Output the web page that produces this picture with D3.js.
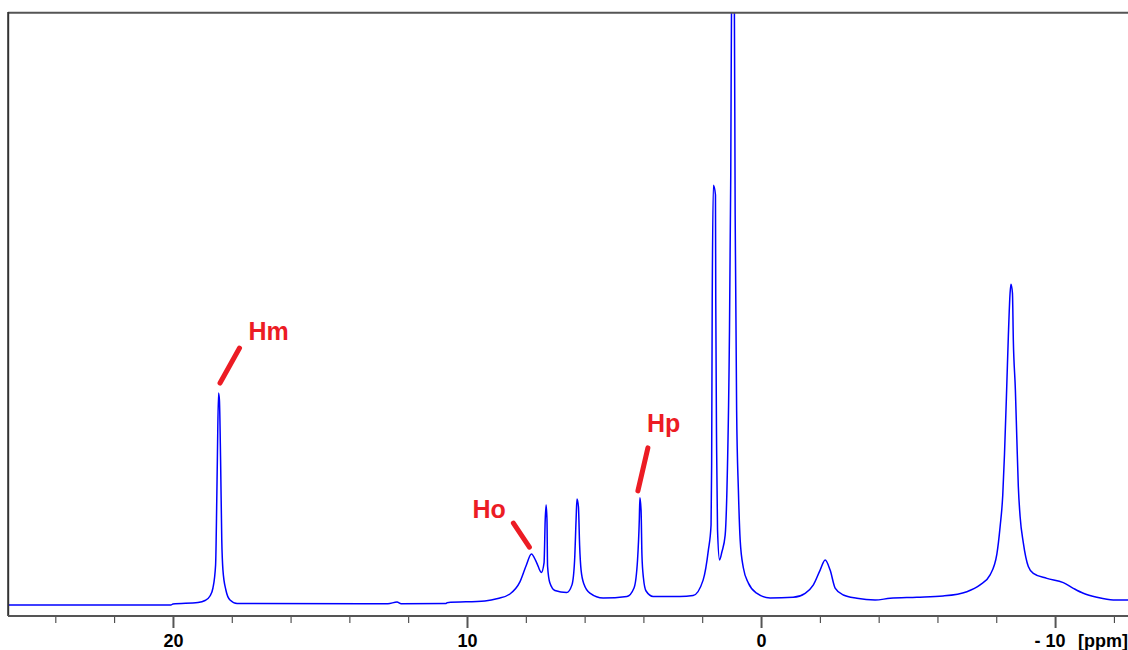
<!DOCTYPE html>
<html>
<head>
<meta charset="utf-8">
<script src="https://cdn.jsdelivr.net/npm/d3@7"></script>
<style>
    html, body { margin: 0; padding: 0; background: #fff; }
    svg { display: block; }
</style>
</head>
<body>
<div id="chart"></div>
<script>
// chemical shift (ppm) and intensity of the spectrum trace
var shifts = [
    25.61, 20.07, 20.00, 19.15, 18.91, 18.74, 18.64, 18.55, 18.51, 18.49, 18.45, 18.42,
    18.38, 18.34, 18.30, 18.20, 18.06, 17.82, 12.69, 12.38, 12.24, 10.71, 10.68, 9.39,
    8.95, 8.54, 8.20, 7.98, 7.81, 7.64, 7.47, 7.38, 7.34, 7.31, 7.28, 7.26,
    7.18, 7.01, 6.61, 6.43, 6.34, 6.29, 6.26, 6.21, 6.17, 6.12, 6.02, 5.82,
    5.37, 4.56, 4.32, 4.20, 4.14, 4.12, 4.08, 4.05, 4.00, 3.91, 3.67, 2.76,
    2.31, 1.97, 1.79, 1.70, 1.68, 1.66, 1.62, 1.55, 1.54, 1.51, 1.48, 1.41,
    1.33, 1.22, 1.16, 1.08, 1.03, 1.00, 0.95, 0.91, 0.88, 0.83, 0.77, 0.71,
    0.60, 0.43, 0.15, -0.31, -1.09, -1.50, -1.78, -2.01, -2.18, -2.35, -2.52, -2.80,
    -3.26, -3.88, -4.39, -5.30, -6.19, -7.00, -7.45, -7.79, -8.02, -8.13, -8.22, -8.28, -8.36,
    -8.41, -8.47, -8.50, -8.55, -8.58, -8.65, -8.70, -8.75, -8.81, -8.92, -9.09, -9.26,
    -9.72, -10.28, -10.62, -10.96, -11.42, -11.98, -12.48
];
var intensities = [
    0.0, 0.0, 0.17, 0.42, 0.76, 1.52, 2.87, 6.76, 17.7, 24.5, 35.8, 34.6,
    24.5, 11.0, 5.9, 2.53, 0.84, 0.25, 0.22, 0.5, 0.22, 0.25, 0.39, 0.68,
    1.1, 1.86, 3.9, 6.76, 8.6, 7.26, 5.49, 7.1, 14.4, 16.9, 14.4, 6.6,
    3.7, 2.45, 2.1, 3.4, 7.6, 14.4, 17.9, 16.6, 10.1, 5.9, 3.5, 2.0,
    1.18, 1.44, 2.87, 7.6, 14.4, 18.1, 16.0, 8.4, 4.6, 2.36, 1.44, 1.44,
    1.6, 4.2, 9.3, 13.5, 23.6, 51.5, 70.9, 69.3, 51.5, 26.2, 12.7, 7.6,
    9.0, 11.8, 19.4, 43.1, 72.6, 105, 115, 105, 65.9, 32.9, 19.4, 11.0,
    6.25, 3.7, 2.0, 1.18, 1.3, 1.98, 3.4, 5.9, 7.6, 5.9, 2.87, 1.69,
    1.13, 0.84, 1.13, 1.3, 1.52, 2.25, 3.4, 5.1, 8.6, 13.2, 18.5, 25.5, 37.5,
    45.3, 52.7, 54.2, 52.7, 44.8, 36.3, 28.0, 20.0, 15.0, 10.5, 6.5, 5.35,
    4.5, 3.77, 2.82, 1.98, 1.3, 0.84, 0.84
];

var majorTicks = [20, 10, 0, -10];
var minorTicks = [24, 22, 18, 16, 14, 12, 8, 6, 4, 2, -2, -4, -6, -8, -12];
var tickLabels = ["20", "10", "0", "- 10"];
var unitLabel = "[ppm]";

var peakNames = ["Hm", "Ho", "Hp"];
var peakShifts = [18.45, 7.81, 4.12];
var peakHeights = [35.8, 8.6, 18.1];

var width = 1128,
    height = 650,
    frameLeft = 8,
    frameTop = 13,
    axisY = 616,
    labelColor = "#ec1c24";

// where each marker stroke and label sits, relative to its peak top
var peakLayout = [
    { x1: 1.5, y1: -10, x2: 21, y2: -45, tx: 30, ty: -53 },
    { x1: -2, y1: -7, x2: -18, y2: -31, tx: -59, ty: -36 },
    { x1: -2, y1: -7, x2: 8, y2: -50, tx: 7, ty: -66 }
];

var svg = d3.select("#chart")
    .append("svg")
    .attr("width", width)
    .attr("height", height)
    .style("font-family", "'Liberation Sans', Arial, sans-serif");

svg.append("rect")
    .attr("width", width)
    .attr("height", height)
    .style("fill", "#fff");

var x = d3.scaleLinear()
    .domain([25.61, -12.48])
    .range([frameLeft, width]);

var y = d3.scaleLinear()
    .domain([0, 100])
    .range([605, frameTop]);

svg.append("clipPath")
    .attr("id", "plot-clip")
    .append("rect")
    .attr("x", frameLeft)
    .attr("y", frameTop)
    .attr("width", width - frameLeft)
    .attr("height", axisY - frameTop);

var points = shifts.map(function(s, i) {
    return [s, intensities[i]];
});

var line = d3.line()
    .curve(d3.curveMonotoneX)
    .x(function(d) { return x(d[0]); })
    .y(function(d) { return y(d[1]); });

svg.append("path")
    .datum(points)
    .attr("clip-path", "url(#plot-clip)")
    .attr("d", line)
    .style("fill", "none")
    .style("stroke", "#0000ff")
    .style("stroke-width", 1.5)
    .style("stroke-linejoin", "round");

// frame: top and left edges
svg.append("line")
    .attr("x1", frameLeft)
    .attr("x2", width)
    .attr("y1", 12.8)
    .attr("y2", 12.8)
    .style("stroke", "#555")
    .style("stroke-width", 2);

svg.append("line")
    .attr("x1", 8.2)
    .attr("x2", 8.2)
    .attr("y1", 12)
    .attr("y2", axisY)
    .style("stroke", "#333")
    .style("stroke-width", 2);

// minor ticks
var minorAxis = svg.append("g")
    .attr("transform", "translate(0," + axisY + ")")
    .call(d3.axisBottom(x)
        .tickValues(minorTicks)
        .tickSize(7)
        .tickSizeOuter(0)
        .tickFormat(""));
minorAxis.select(".domain").remove();
minorAxis.selectAll(".tick line")
    .style("stroke", "#333")
    .style("stroke-width", 1);

// major ticks with labels
var majorAxis = svg.append("g")
    .attr("transform", "translate(0," + axisY + ")")
    .call(d3.axisBottom(x)
        .tickValues(majorTicks)
        .tickSize(12)
        .tickSizeOuter(0)
        .tickPadding(6)
        .tickFormat(function(d, i) { return tickLabels[i]; }));
majorAxis.select(".domain").remove();
majorAxis.selectAll(".tick line")
    .style("stroke", "#555")
    .style("stroke-width", 2);
majorAxis.selectAll(".tick text")
    .style("fill", "#000")
    .style("font-size", "18px")
    .style("font-weight", "bold")
    .style("font-family", "'Liberation Sans', Arial, sans-serif")
    .filter(function(d) { return d < 0; })
    .attr("text-anchor", "end")
    .attr("x", 10);

svg.append("text")
    .attr("x", x(-10) + 23)
    .attr("y", axisY + 18)
    .attr("dy", "0.71em")
    .style("font-size", "18px")
    .style("font-weight", "bold")
    .text(unitLabel);

svg.append("line")
    .attr("x1", frameLeft)
    .attr("x2", width)
    .attr("y1", axisY)
    .attr("y2", axisY)
    .style("stroke", "#555")
    .style("stroke-width", 1.8);

// peak annotations
var marks = svg.selectAll("g.peak-label")
    .data(peakNames)
    .enter()
    .append("g")
    .attr("class", "peak-label")
    .attr("transform", function(d, i) {
        return "translate(" + x(peakShifts[i]) + "," + y(peakHeights[i]) + ")";
    });

marks.append("line")
    .attr("x1", function(d, i) { return peakLayout[i].x1; })
    .attr("y1", function(d, i) { return peakLayout[i].y1; })
    .attr("x2", function(d, i) { return peakLayout[i].x2; })
    .attr("y2", function(d, i) { return peakLayout[i].y2; })
    .style("stroke", labelColor)
    .style("stroke-width", 5)
    .style("stroke-linecap", "round");

marks.append("text")
    .attr("x", function(d, i) { return peakLayout[i].tx; })
    .attr("y", function(d, i) { return peakLayout[i].ty; })
    .style("fill", labelColor)
    .style("font-size", "25px")
    .style("font-weight", "bold")
    .text(function(d) { return d; });
</script>
</body>
</html>
